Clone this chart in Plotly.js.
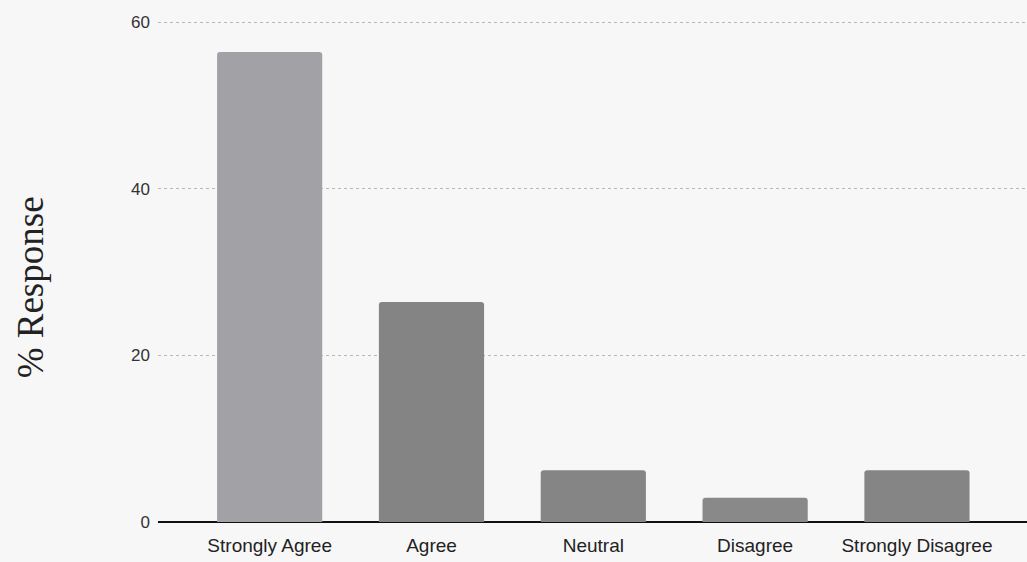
<!DOCTYPE html>
<html>
<head>
<meta charset="utf-8">
<script src="https://cdn.plot.ly/plotly-3.0.1.min.js"></script>
<style>html,body{margin:0;padding:0;background:#f8f7f8;}#chart{width:1027px;height:562px;}</style>
</head>
<body>
<div id="chart"></div>
<script>
const categories = ["Strongly Agree", "Agree", "Neutral", "Disagree", "Strongly Disagree"];
const values = [56.4, 26.4, 6.2, 2.9, 6.2];
const barColors = ["#a2a1a6", "#848485", "#858585", "#898989", "#858585"];
const yTicks = [0, 20, 40, 60];
const yTitle = "% Response";

Plotly.newPlot("chart", [{
  type: "bar",
  x: categories,
  y: values,
  width: 0.65,
  marker: { color: barColors, cornerradius: 3, line: { width: 0 } },
  hoverinfo: "skip"
}], {
  width: 1027, height: 562,
  margin: { l: 158, r: 0, t: 20, b: 40 },
  paper_bgcolor: "#f8f7f8",
  plot_bgcolor: "#f8f7f8",
  showlegend: false,
  xaxis: {
    range: [-0.69, 4.68],
    showgrid: false,
    showline: false,
    zeroline: false,
    ticks: "",
    ticklabelstandoff: 10,
    tickfont: { family: "Liberation Sans, Arial, sans-serif", size: 19, color: "#222" },
    fixedrange: true
  },
  yaxis: {
    range: [0, 60.25],
    tickvals: yTicks,
    ticktext: yTicks.map(String),
    showgrid: true,
    gridcolor: "#b8b8b8",
    griddash: "dot",
    gridwidth: 1,
    zeroline: true,
    zerolinecolor: "#111",
    zerolinewidth: 2,
    showline: false,
    ticks: "",
    ticklabelstandoff: 7,
    tickfont: { family: "Liberation Sans, Arial, sans-serif", size: 17, color: "#333" },
    fixedrange: true
  },
  annotations: [{
    text: yTitle,
    xref: "paper", yref: "paper",
    x: -0.147, y: 0.468,
    xanchor: "center", yanchor: "middle",
    textangle: -90,
    showarrow: false,
    font: { family: "Liberation Serif, Times New Roman, serif", size: 37, color: "#222" }
  }]
}, { displayModeBar: false, staticPlot: true });
</script>
</body>
</html>
